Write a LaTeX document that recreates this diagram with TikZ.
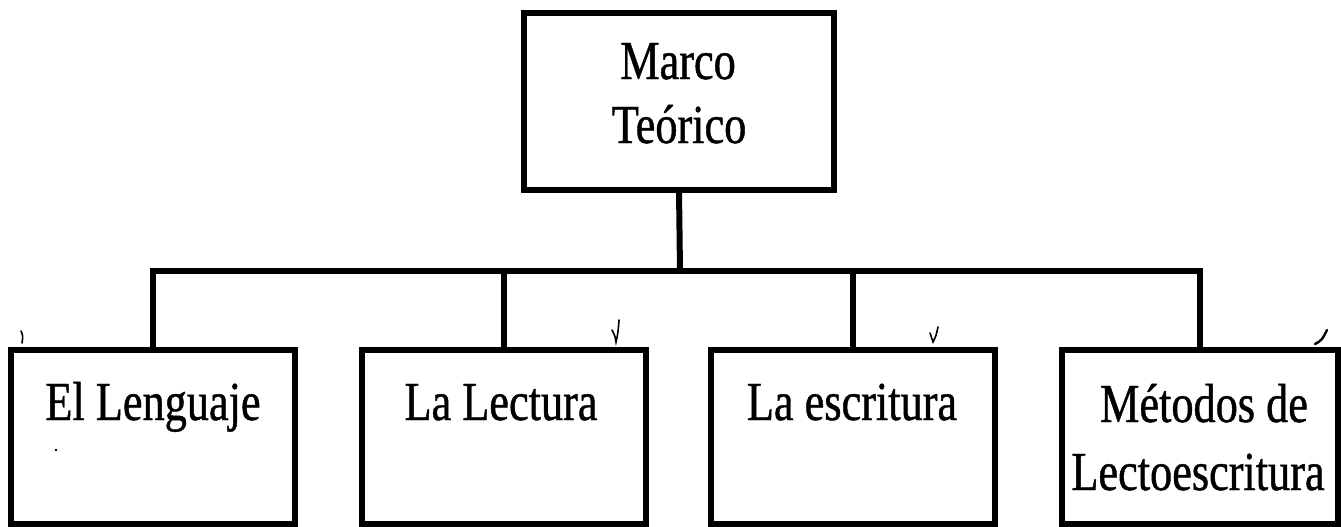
\documentclass[tikz,border=0pt]{standalone}
\usepackage{fontspec}
\setmainfont{Liberation Serif}[FakeStretch=0.805,FakeBold=0.8]
\begin{document}
\begin{tikzpicture}[x=1pt,y=-1pt,
  box/.style={draw=black,line width=6pt,rectangle,inner sep=0pt,outer sep=0pt,line join=miter},
  conn/.style={draw=black,line width=6pt,line join=miter},
  lbl/.style={inner sep=0pt,anchor=base,font=\fontsize{55}{66}\selectfont},
  tick/.style={draw=black,line width=1.6pt,line cap=round}]
\useasboundingbox (0,0) rectangle (1341,527);
% boxes
\node[box,minimum width=310pt,minimum height=177pt] (top) at (679,101.5) {};
\node[box,minimum width=284pt,minimum height=174pt] (b1) at (153,437) {};
\node[box,minimum width=284pt,minimum height=174pt] (b2) at (504,437) {};
\node[box,minimum width=284pt,minimum height=174pt] (b3) at (853,437) {};
\node[box,minimum width=276pt,minimum height=174pt] (b4) at (1200,437) {};
% texts
\node[lbl] (t0a) at (678,79) {Marco};
\node[lbl] (t0b) at (679,143) {Teórico};
\node[lbl] (t1) at (153,420) {El Lenguaje};
\node[lbl] (t2) at (501,420) {La Lectura};
\node[lbl] (t3) at (852,420) {La escritura};
\node[lbl] (t4a) at (1204,422) {Métodos de};
\node[lbl] (t4b) at (1198,490) {Lectoescritura};
% connectors
\coordinate (bar) at (680,271);
\draw[conn] (top.south) -- (bar);
\draw[conn] (b1.north) |- (bar) -| (b4.north);
\draw[conn] (b2.north) -- (b2.north |- bar);
\draw[conn] (b3.north) -- (b3.north |- bar);
% stray pencil marks
\draw[tick] (21,331) .. controls (23,336) .. (22,343);
\draw[tick] (612,330) .. controls (615,336) .. (616,342) .. controls (618,333) .. (619,320);
\draw[tick] (930,333) .. controls (932,338) .. (933,342) .. controls (936,336) .. (938,327);
\draw[tick,line width=2.4pt] (1315,344) .. controls (1322,340) .. (1327,330);
\fill[black] (56,450) circle (1.3pt);
\end{tikzpicture}
\end{document}
